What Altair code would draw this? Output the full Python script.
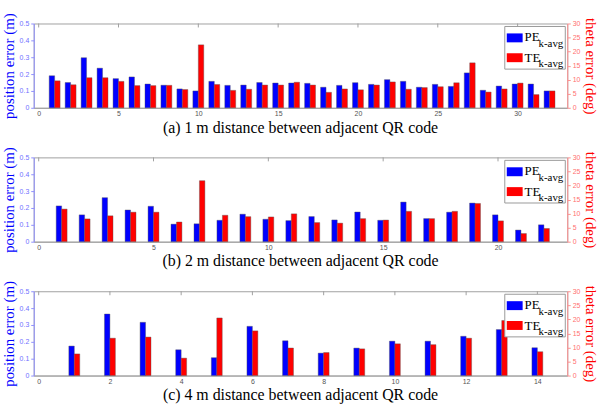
import altair as alt
import pandas as pd

# ---------------- data ----------------
a_idx = list(range(1, 33))
a_pe = [0.190, 0.150, 0.297, 0.235, 0.173, 0.183, 0.141, 0.134, 0.112, 0.100, 0.157, 0.133, 0.135, 0.150, 0.147, 0.147,
        0.145, 0.122, 0.133, 0.149, 0.139, 0.167, 0.157, 0.122, 0.139, 0.127, 0.207, 0.104, 0.129, 0.141, 0.141, 0.100]
a_te = [9.6, 8.2, 10.7, 10.7, 9.4, 7.9, 7.9, 8.0, 6.5, 22.4, 8.3, 6.2, 6.6, 8.1, 8.1, 9.1,
        8.1, 5.5, 6.7, 6.4, 8.1, 9.2, 6.6, 7.2, 7.5, 8.9, 16.0, 5.6, 6.7, 8.8, 4.7, 6.0]

b_idx = list(range(1, 23))
b_pe = [0.212, 0.159, 0.261, 0.188, 0.210, 0.104, 0.106, 0.127, 0.163, 0.133, 0.125, 0.149, 0.129, 0.176, 0.127,
        0.235, 0.137, 0.175, 0.229, 0.159, 0.069, 0.100]
b_te = [11.6, 8.1, 9.2, 10.5, 10.5, 7.0, 21.7, 9.4, 8.9, 8.8, 9.9, 6.8, 6.6, 8.2, 7.7, 10.8, 8.2, 10.8, 13.6, 7.4,
        2.9, 4.7]

c_idx = list(range(1, 15))
c_pe = [0.175, 0.365, 0.316, 0.153, 0.106, 0.292, 0.206, 0.133, 0.163, 0.204, 0.204, 0.233, 0.273, 0.165]
c_te = [7.7, 13.3, 13.7, 6.2, 20.5, 15.9, 9.8, 8.2, 9.5, 11.3, 11.0, 13.3, 19.6, 8.5]

a_xticks = [0, 5, 10, 15, 20, 25, 30]
b_xticks = [0, 5, 10, 15, 20]
c_xticks = [0, 2, 4, 6, 8, 10, 12, 14]
pe_ticks = [0, 0.1, 0.2, 0.3, 0.4, 0.5]
te_ticks = [0, 5, 10, 15, 20, 25, 30]

titles = ["(a) 1 m distance between adjacent QR code",
          "(b) 2 m distance between adjacent QR code",
          "(c) 4 m distance between adjacent QR code"]

W, H = 538, 85
SERIF = "Liberation Serif"
SANS = "Liberation Sans"
BLUE = "#0000ff"
RED = "#ff0000"


def panel(idx, pe, te, xmax, xticks, title):
    df = pd.DataFrame({"i": idx, "pe": pe, "te": te})
    tdf = pd.DataFrame({"i": xticks})
    one = pd.DataFrame({"k": [0]})

    xenc = alt.X("i:Q", scale=alt.Scale(domain=[0, xmax], nice=False, zero=False),
                 axis=alt.Axis(values=xticks, title=None, grid=False, ticks=False,
                               labelFontSize=7, labelColor="#555", labelFont=SANS,
                               domainColor="#a0a0a0", labelPadding=2))

    blue = alt.Chart(df).mark_bar(color=BLUE, width=5.5, xOffset=-2.75,
                                  stroke="#555", strokeWidth=0.4).encode(
        x=xenc,
        y=alt.Y("pe:Q", scale=alt.Scale(domain=[0, 0.5], nice=False),
                axis=alt.Axis(orient="left", values=pe_ticks, format="~g", title="position error (m)",
                              titleFont=SERIF, titleFontSize=15, titleFontWeight="normal",
                              titleColor=BLUE, titlePadding=3, labelFont=SANS, labelFontSize=7,
                              labelColor="#7070ff", domainColor="#9090ff", tickColor="#9090ff",
                              tickSize=3, grid=False, labelPadding=2)),
    )
    red = alt.Chart(df).mark_bar(color=RED, width=5.5, xOffset=2.75,
                                 stroke="#555", strokeWidth=0.4).encode(
        x=xenc,
        y=alt.Y("te:Q", scale=alt.Scale(domain=[0, 30], nice=False),
                axis=alt.Axis(orient="right", values=te_ticks, title="theta error (deg)",
                              titleFont=SERIF, titleFontSize=15, titleFontWeight="normal",
                              titleColor=RED, titlePadding=3, labelFont=SANS, labelFontSize=7,
                              labelColor="#ff7070", domainColor="#ff9090", tickColor="#ff9090",
                              tickSize=3, grid=False, labelPadding=2)),
    )
    top_ticks = alt.Chart(tdf).mark_rule(color="#a0a0a0").encode(
        x=xenc, y=alt.value(0), y2=alt.value(4))

    box = alt.Chart(one).mark_rect(fill="white", stroke="#999", strokeWidth=1).encode(
        x=alt.value(475), x2=alt.value(536), y=alt.value(3), y2=alt.value(46))
    sw_b = alt.Chart(one).mark_rect(fill=BLUE).encode(
        x=alt.value(477), x2=alt.value(493), y=alt.value(10), y2=alt.value(19))
    sw_r = alt.Chart(one).mark_rect(fill=RED).encode(
        x=alt.value(477), x2=alt.value(493), y=alt.value(30), y2=alt.value(39))

    def txt(t, x, y, size):
        return alt.Chart(one).mark_text(align="left", baseline="alphabetic", font=SERIF,
                                        fontSize=size, color="black").encode(
            x=alt.value(x), y=alt.value(y), text=alt.value(t))

    leg = [box, sw_b, sw_r,
           txt("PE", 495, 18, 13), txt("k-avg", 509, 23.5, 11),
           txt("TE", 495, 39, 13), txt("k-avg", 509, 44, 11)]

    ttl = alt.Chart(one).mark_text(align="center", baseline="alphabetic", font=SERIF,
                                   fontSize=16, color="black").encode(
        x=alt.value(W / 2), y=alt.value(H + 25), text=alt.value(title))

    return alt.layer(blue, red, top_ticks, *leg, ttl).resolve_scale(y="independent").properties(
        width=W, height=H)


pa = panel(a_idx, a_pe, a_te, 32.8, a_xticks, titles[0])
pb = panel(b_idx, b_pe, b_te, 22.8, b_xticks, titles[1])
pc = panel(c_idx, c_pe, c_te, 14.7, c_xticks, titles[2])

chart = alt.vconcat(pa, pb, pc, spacing=50, bounds="flush").properties(
    padding={"left": 0, "top": 10, "right": 0, "bottom": 0},
).configure_view(stroke="#a0a0a0", strokeWidth=1)

chart.save("out.html", embed_options={"renderer": "svg", "actions": False})
